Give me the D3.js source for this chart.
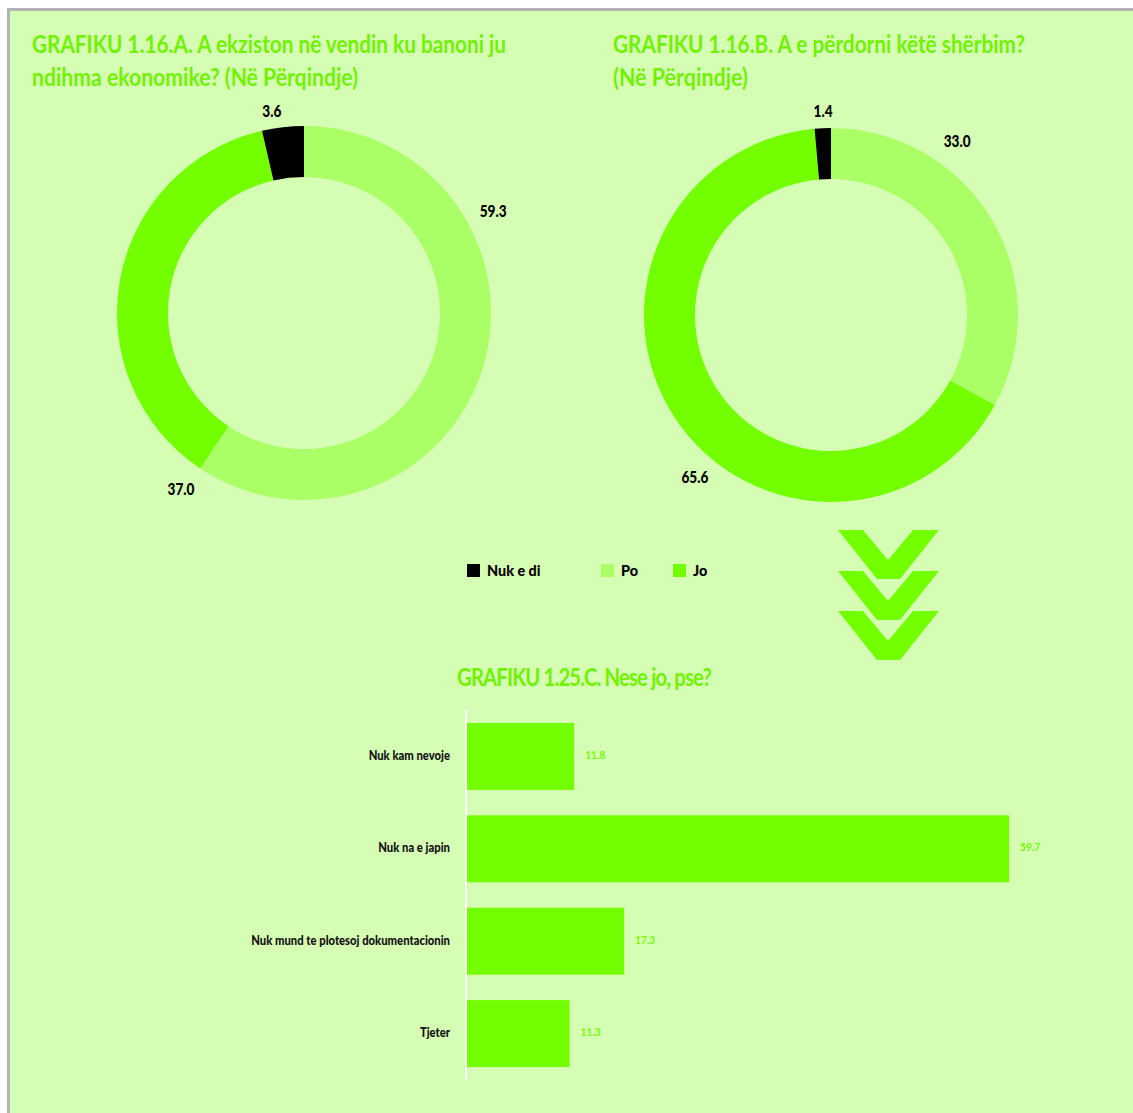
<!DOCTYPE html>
<html>
<head>
<meta charset="utf-8">
<script src="https://cdn.jsdelivr.net/npm/d3@7"></script>
<style>
html,body{margin:0;padding:0;background:#fff;}
svg{display:block;}
text{font-family:"Lato","Open Sans",sans-serif;}
</style>
</head>
<body>
<script>
// ---------- DATA ----------
const sliceCategories = ["Po", "Jo", "Nuk e di"];
const valuesA = [59.3, 37.0, 3.6];
const valuesB = [33.0, 65.6, 1.4];
const legendCategories = ["Nuk e di", "Po", "Jo"];
const titleA = ["GRAFIKU 1.16.A. A ekziston në vendin ku banoni ju", "ndihma ekonomike? (Në Përqindje)"];
const titleB = ["GRAFIKU 1.16.B. A e përdorni këtë shërbim?", "(Në Përqindje)"];
const titleC = "GRAFIKU 1.25.C. Nese jo, pse?";
const barCategories = ["Nuk kam nevoje", "Nuk na e japin", "Nuk mund te plotesoj dokumentacionin", "Tjeter"];
const barValues = [11.8, 59.7, 17.3, 11.3];

// ---------- STYLE ----------
const W = 1133, H = 1113;
const BG = "#d6fdb4";
const colors = { "Po": "#aaff66", "Jo": "#73ff00", "Nuk e di": "#000000" };
const titleColor = "#70f200";

const svg = d3.select("body").append("svg").attr("width", W).attr("height", H);
svg.append("rect").attr("width", W).attr("height", H).attr("fill", "#fff");
svg.append("rect").attr("x", 8.5).attr("y", 9.5).attr("width", W + 20).attr("height", H + 20)
  .attr("fill", BG).attr("stroke", "#b3b3b3").attr("stroke-width", 3);

function fitText(sel, len) {
  sel.attr("textLength", len).attr("lengthAdjust", "spacingAndGlyphs");
}
function condense(sel, f) {
  sel.each(function () {
    const l = this.getComputedTextLength();
    d3.select(this).attr("textLength", l * f).attr("lengthAdjust", "spacingAndGlyphs");
  });
}

// titles
function title(lines, x, y0, widths) {
  lines.forEach((t, i) => {
    svg.append("text").attr("x", x).attr("y", y0 + i * 33)
      .attr("fill", titleColor).attr("font-size", 25).attr("font-weight", 700)
      .text(t).call(fitText, widths[i]);
  });
}
title(titleA, 32, 53, [474, 326]);
title(titleB, 613, 53, [412, 135]);

// ---------- DONUTS ----------
const pie = d3.pie().sort(null).value(d => d.v);
const arc = d3.arc().innerRadius(136).outerRadius(187);

// label placement: [angle in degrees clockwise from top, radius]
function donut(values, cx, cy, labelPos) {
  const data = sliceCategories.map((c, i) => ({ c, v: values[i] }));
  const arcs = pie(data);
  const g = svg.append("g").attr("transform", `translate(${cx},${cy})`);
  g.selectAll("path").data(arcs).join("path")
    .attr("d", arc).attr("fill", d => colors[d.data.c]);
  g.selectAll("text").data(arcs).join("text")
    .attr("x", (d, i) => labelPos[i][1] * Math.sin(labelPos[i][0] * Math.PI / 180))
    .attr("y", (d, i) => -labelPos[i][1] * Math.cos(labelPos[i][0] * Math.PI / 180))
    .attr("text-anchor", "middle").attr("dominant-baseline", "central")
    .attr("font-size", 16).attr("font-weight", 900).attr("fill", "#000")
    .text(d => d3.format(".1f")(d.data.v))
    .call(condense, 0.85);
}
donut(valuesA, 304, 313, [[61.6, 215], [215.1, 214], [351, 205.5]]);
donut(valuesB, 831, 315, [[35.8, 215.6], [220.2, 210.8], [357.8, 205]]);

// ---------- LEGEND ----------
const legendX = { "Nuk e di": 467, "Po": 601, "Jo": 673 };
const lg = svg.append("g");
legendCategories.forEach(c => {
  lg.append("rect").attr("x", legendX[c]).attr("y", 564).attr("width", 13).attr("height", 13)
    .attr("fill", colors[c]);
  lg.append("text").attr("x", legendX[c] + 20).attr("y", 575.5)
    .attr("font-size", 15.5).attr("font-weight", 900).attr("fill", "#000")
    .text(c).call(condense, 0.93);
});

// ---------- CHEVRONS ----------
const chevron = [[0, 0], [25, 0], [50, 30], [75, 0], [101, 0], [62, 49], [39, 49]];
[530, 571, 611].forEach(ty => {
  svg.append("path")
    .attr("d", d3.line()(chevron.map(p => [838 + p[0], ty + p[1]])) + "Z")
    .attr("fill", "#73ff00");
});

// ---------- BAR CHART ----------
svg.append("text").attr("x", 457).attr("y", 686)
  .attr("fill", titleColor).attr("font-size", 24).attr("font-weight", 700)
  .attr("letter-spacing", -1)
  .text(titleC).call(fitText, 254);

const x = d3.scaleLinear().domain([0, 60]).range([467, 467 + 60 * 9.08]);
const y = d3.scaleBand().domain(barCategories).range([710, 1080])
  .paddingInner(0.275).paddingOuter(0.14);

svg.append("line").attr("x1", 466).attr("x2", 466).attr("y1", 710).attr("y2", 1080)
  .attr("stroke", "#ffffff").attr("stroke-width", 2);

svg.selectAll("rect.bar").data(barCategories).join("rect").attr("class", "bar")
  .attr("x", x(0)).attr("y", d => y(d))
  .attr("width", (d, i) => x(barValues[i]) - x(0))
  .attr("height", y.bandwidth()).attr("fill", "#73ff00");

svg.selectAll("text.val").data(barCategories).join("text").attr("class", "val")
  .attr("x", (d, i) => x(barValues[i]) + 11)
  .attr("y", d => y(d) + y.bandwidth() / 2 - 2)
  .attr("dominant-baseline", "central")
  .attr("font-size", 12).attr("font-weight", 700).attr("fill", "#73ff00")
  .text((d, i) => d3.format(".1f")(barValues[i]))
  .call(condense, 0.85);

svg.selectAll("text.cat").data(barCategories).join("text").attr("class", "cat")
  .attr("x", 450)
  .attr("y", d => y(d) + y.bandwidth() / 2 - 1)
  .attr("text-anchor", "end").attr("dominant-baseline", "central")
  .attr("font-size", 12.5).attr("font-weight", 900).attr("fill", "#111")
  .text(d => d)
  .call(condense, 0.9);
</script>
</body>
</html>
